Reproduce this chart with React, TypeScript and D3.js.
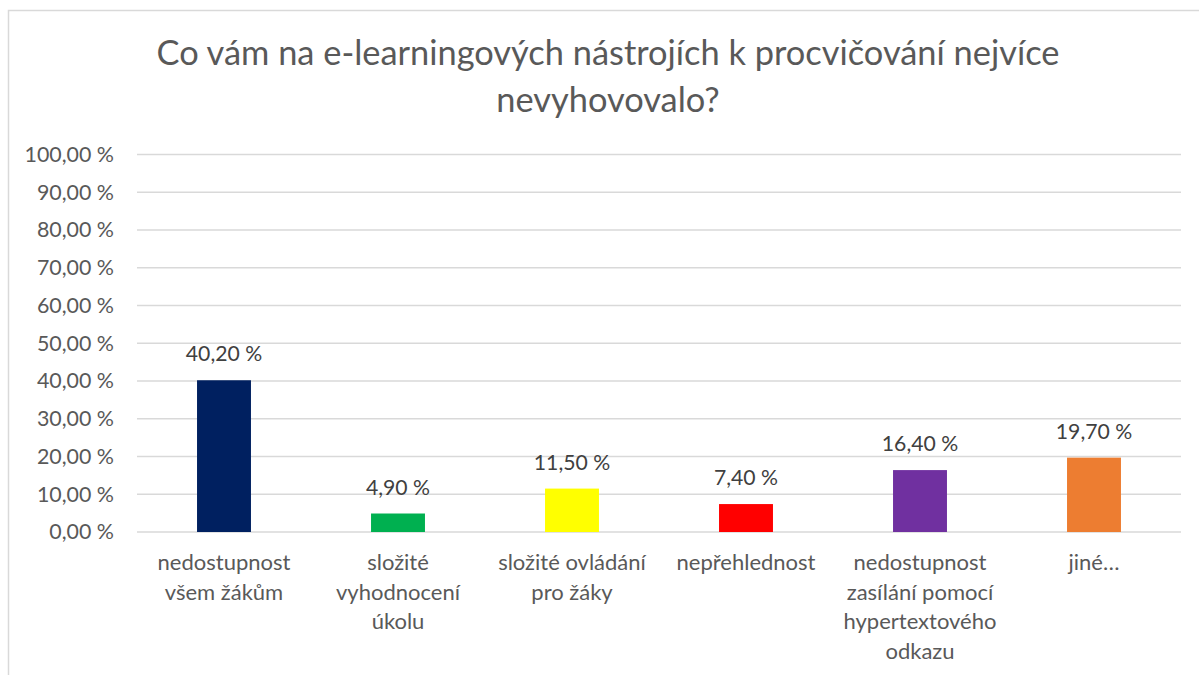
import React, { useEffect, useRef } from "react";
import * as d3 from "d3";

const categories = [
  ["nedostupnost", "všem žákům"],
  ["složité", "vyhodnocení", "úkolu"],
  ["složité ovládání", "pro žáky"],
  ["nepřehlednost"],
  ["nedostupnost", "zasílání pomocí", "hypertextového", "odkazu"],
  ["jiné…"],
];
const values = [40.2, 4.9, 11.5, 7.4, 16.4, 19.7];
const barColors = ["#002060", "#00B050", "#FFFF00", "#FF0000", "#7030A0", "#ED7D31"];
const yTicks = [0, 10, 20, 30, 40, 50, 60, 70, 80, 90, 100];
const titleLines = [
  "Co vám na e-learningových nástrojích k procvičování nejvíce",
  "nevyhovovalo?",
];

const W = 1199;
const H = 675;
const FONT = "Lato, 'Open Sans', sans-serif";
const TEXT = "#595959";

const fmt = (v: number) => v.toFixed(2).replace(".", ",") + " %";

const App = () => {
  const svgRef = useRef<SVGSVGElement>(null);

  useEffect(() => {
    const svg = d3.select(svgRef.current);
    svg.selectAll("*").remove();

    const margin = { top: 154.5, right: 18, bottom: 143, left: 137 };

    const x = d3
      .scaleBand<number>()
      .domain(d3.range(values.length))
      .range([margin.left, W - margin.right])
      .paddingInner(0.69)
      .paddingOuter(0.345);

    const y = d3
      .scaleLinear()
      .domain([0, 100])
      .range([H - margin.bottom, margin.top]);

    // chart frame
    svg
      .append("rect")
      .attr("x", 8.5)
      .attr("y", 10.5)
      .attr("width", 1400)
      .attr("height", 1000)
      .attr("fill", "white")
      .attr("stroke", "#d9d9d9")
      .attr("stroke-width", 1.5);

    // title
    svg
      .append("g")
      .selectAll("text")
      .data(titleLines)
      .join("text")
      .attr("x", 608)
      .attr("y", (d, i) => 65 + i * 47)
      .attr("text-anchor", "middle")
      .attr("font-family", FONT)
      .attr("font-size", 34.4)
      .attr("fill", TEXT)
      .text((d) => d);

    // gridlines
    svg
      .append("g")
      .selectAll("line")
      .data(yTicks)
      .join("line")
      .attr("x1", margin.left)
      .attr("x2", W - margin.right)
      .attr("y1", (d) => y(d))
      .attr("y2", (d) => y(d))
      .attr("stroke", "#d9d9d9")
      .attr("stroke-width", 1.5);

    // y labels
    svg
      .append("g")
      .selectAll("text")
      .data(yTicks)
      .join("text")
      .attr("x", 114)
      .attr("y", (d) => y(d))
      .attr("dy", "0.35em")
      .attr("text-anchor", "end")
      .attr("font-family", FONT)
      .attr("font-size", 21.4)
      .attr("fill", TEXT)
      .text((d) => fmt(d));

    // bars
    svg
      .append("g")
      .selectAll("rect")
      .data(values)
      .join("rect")
      .attr("x", (d, i) => x(i)!)
      .attr("width", x.bandwidth())
      .attr("y", (d) => y(d))
      .attr("height", (d) => y(0) - y(d))
      .attr("fill", (d, i) => barColors[i]);

    // value labels
    svg
      .append("g")
      .selectAll("text")
      .data(values)
      .join("text")
      .attr("x", (d, i) => x(i)! + x.bandwidth() / 2)
      .attr("y", (d) => y(d) - 19)
      .attr("text-anchor", "middle")
      .attr("font-family", FONT)
      .attr("font-size", 21.2)
      .attr("fill", "#404040")
      .text((d) => fmt(d));

    // category labels
    const cat = svg
      .append("g")
      .selectAll("text")
      .data(categories)
      .join("text")
      .attr("text-anchor", "middle")
      .attr("font-family", FONT)
      .attr("font-size", 22)
      .attr("fill", TEXT);

    cat
      .selectAll("tspan")
      .data((d, i) => d.map((line) => ({ line, i })))
      .join("tspan")
      .attr("x", (d) => x(d.i)! + x.bandwidth() / 2)
      .attr("y", (d, j) => 570 + j * 29.5)
      .text((d) => d.line);
  }, []);

  return (
    <svg
      ref={svgRef}
      width={W}
      height={H}
      style={{ position: "absolute", left: 0, top: 0, background: "white" }}
    />
  );
};

export default App;
